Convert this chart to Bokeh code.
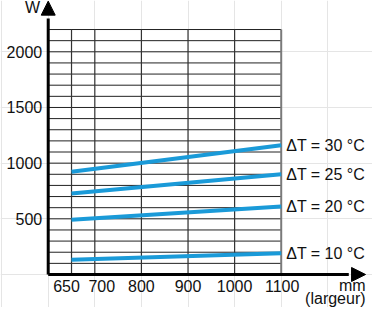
from bokeh.plotting import figure
from bokeh.models import Range1d, Arrow, NormalHead
from bokeh.core.properties import value
from bokeh.embed import file_html
from bokeh.resources import INLINE

# ---- data ----
widths = [650, 1100]
power_dt10 = [132, 191]
power_dt20 = [491, 611]
power_dt25 = [727, 901]
power_dt30 = [922, 1161]
series_labels = ["ΔT = 10 °C", "ΔT = 20 °C", "ΔT = 25 °C", "ΔT = 30 °C"]
x_ticks = [650, 700, 800, 900, 1000, 1100]
x_tick_labels = ["650", "700", "800", "900", "1000", "1100"]
y_ticks = [500, 1000, 1500, 2000]
y_tick_labels = ["500", "1000", "1500", "2000"]
y_grid = list(range(100, 2300, 100))
x_unit = ["mm", "(largeur)"]
y_unit = "W"

FONT = value("Liberation Sans")
FS = "16px"
BLUE = "#1a9ad8"

X0, X1 = 600, 1100
Y0, Y1 = 0, 2200

p = figure(width=372, height=307, output_backend="svg", toolbar_location=None,
           x_range=Range1d(497.6, 1295.9), y_range=Range1d(-296.4, 2460.7),
           x_axis_location=None, y_axis_location=None, min_border=0)
p.outline_line_color = None
p.background_fill_color = "white"

# grid
p.segment(x0=[X0] * len(y_grid), y0=y_grid, x1=[X1] * len(y_grid), y1=y_grid,
          line_color="#222222", line_width=1)
vx = x_ticks[:-1]
p.segment(x0=vx, y0=[Y0] * len(vx), x1=vx, y1=[Y1] * len(vx),
          line_color="#333333", line_width=1.2)
p.segment(x0=[X1], y0=[Y0], x1=[X1], y1=[Y1], line_color="#7a7a7a", line_width=2)

# series
for vals in [power_dt10, power_dt20, power_dt25, power_dt30]:
    p.line(widths, vals, line_color=BLUE, line_width=4)

ends = [power_dt10[-1], power_dt20[-1], power_dt25[-1], power_dt30[-1]]
p.text(x=[X1] * 4, y=ends, text=series_labels, x_offset=5, text_align="left",
       text_baseline="middle", text_font=FONT, text_font_size=FS, text_color="#111111")

# axes
p.segment(x0=[X0], y0=[Y0], x1=[1245], y1=[Y0], line_color="black", line_width=3)
p.segment(x0=[X0], y0=[Y0], x1=[X0], y1=[2300], line_color="black", line_width=3)
p.add_layout(Arrow(x_start=1200, y_start=Y0, x_end=1281, y_end=Y0, line_alpha=0,
                   end=NormalHead(size=14, fill_color="black", line_color="black")))
p.add_layout(Arrow(x_start=X0, y_start=2200, x_end=X0, y_end=2455, line_alpha=0,
                   end=NormalHead(size=14, fill_color="black", line_color="black")))

# tick labels
x_offs = [-5, 7, 0, 0, 0, 1]
p.text(x=x_ticks, y=[-99] * len(x_ticks), text=x_tick_labels, x_offset=x_offs,
       text_align="center", text_baseline="middle", text_font=FONT,
       text_font_size=FS, text_color="#111111")
p.text(x=[X0] * len(y_ticks), y=y_ticks, text=y_tick_labels, x_offset=-6,
       text_align="right", text_baseline="middle", text_font=FONT,
       text_font_size=FS, text_color="#111111")

# unit labels
p.text(x=[1281, 1281], y=[-99, -218], text=x_unit, text_align="right",
       text_baseline="middle", text_font=FONT, text_font_size=FS, text_color="#111111")
p.text(x=[X0], y=[2395], text=[y_unit], x_offset=-8, text_align="right",
       text_baseline="middle", text_font=FONT, text_font_size=FS, text_color="#111111")

open("out.html", "w").write(file_html(p, INLINE))
